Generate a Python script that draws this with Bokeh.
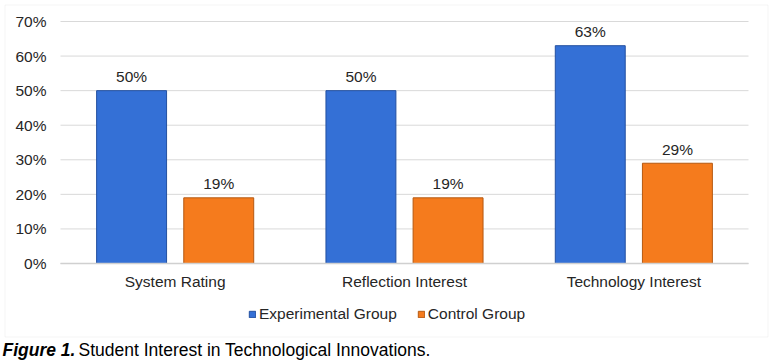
from bokeh.plotting import figure
from bokeh.models import (ColumnDataSource, Range1d, PrintfTickFormatter, Legend, LegendItem,
                          Label, BoxAnnotation, FixedTicker)
from bokeh.transform import dodge
from bokeh.embed import file_html
from bokeh.resources import INLINE
from bokeh.core.properties import value

categories = ["System Rating", "Reflection Interest", "Technology Interest"]
experimental = [50, 50, 63]
control = [19, 19, 29]
y_ticks = [0, 10, 20, 30, 40, 50, 60, 70]
y_max = 70
series_names = ["Experimental Group", "Control Group"]
caption_bold = "Figure 1."
caption_rest = "Student Interest in Technological Innovations."

FONT = "Liberation Sans"
FS = "15.5px"
TXT = "#262626"

# layout (canvas pixels)
W, H = 772, 360
PX_LEFT, PX_RIGHT, PX_TOP, PX_BASE = 60, 748, 21, 263
n = len(categories)
ppx = (PX_RIGHT - PX_LEFT) / n
ppy = (PX_BASE - PX_TOP) / y_max
x_range = Range1d(-PX_LEFT / ppx, n + (W - PX_RIGHT) / ppx)
y_range = Range1d(-(H - PX_BASE) / ppy, y_max + PX_TOP / ppy)

centers = [i + 0.5 for i in range(n)]
src = ColumnDataSource(dict(
    xc=centers,
    exp=experimental,
    ctl=control,
    exp_lbl=[f"{v}%" for v in experimental],
    ctl_lbl=[f"{v}%" for v in control],
))

p = figure(width=W, height=H, output_backend="svg", toolbar_location=None,
           x_range=x_range, y_range=y_range,
           min_border_left=0, min_border_right=0, min_border_top=0, min_border_bottom=0)
p.outline_line_color = None
p.background_fill_color = "white"
p.border_fill_color = "white"
p.xgrid.visible = False
p.ygrid.visible = False

# horizontal gridlines over the category span
p.segment(x0=0, x1=n, y0=y_ticks, y1=y_ticks, line_color="#d9d9d9", line_width=1)

r1 = p.vbar(x=dodge("xc", -0.19), top="exp", width=0.305, source=src,
            fill_color="#3470d6", line_color="#2350a0", line_width=1)
r2 = p.vbar(x=dodge("xc", 0.19), top="ctl", width=0.305, source=src,
            fill_color="#f57b1d", line_color="#b55912", line_width=1)

p.text(x=dodge("xc", -0.19), y="exp", text="exp_lbl", source=src,
       text_align="center", text_baseline="alphabetic", y_offset=-14,
       text_font=value(FONT), text_font_size=FS, text_color=TXT)
p.text(x=dodge("xc", 0.19), y="ctl", text="ctl_lbl", source=src,
       text_align="center", text_baseline="alphabetic", y_offset=-14,
       text_font=value(FONT), text_font_size=FS, text_color=TXT)

# axes drawn inside the frame at fixed locations
p.yaxis.fixed_location = 0
p.yaxis.ticker = FixedTicker(ticks=y_ticks)
p.yaxis.formatter = PrintfTickFormatter(format="%d%%")
p.yaxis.bounds = (0, y_max)
p.yaxis.axis_line_color = None
p.yaxis.major_tick_line_color = None
p.yaxis.minor_tick_line_color = None
p.yaxis.major_tick_out = 0
p.yaxis.major_tick_in = 0
p.yaxis.major_label_standoff = 14

p.xaxis.fixed_location = 0
p.xaxis.ticker = FixedTicker(ticks=centers)
p.xaxis.major_label_overrides = {c: lab for c, lab in zip(centers, categories)}
p.xaxis.bounds = (0, n)
p.xaxis.axis_line_color = "#d0d0d0"
p.xaxis.axis_line_width = 1.5
p.xaxis.major_tick_line_color = None
p.xaxis.minor_tick_line_color = None
p.xaxis.major_tick_out = 0
p.xaxis.major_tick_in = 0
p.xaxis.major_label_standoff = 9
for ax in (p.xaxis, p.yaxis):
    ax.major_label_text_font = FONT
    ax.major_label_text_font_size = FS
    ax.major_label_text_color = TXT

legend = Legend(items=[LegendItem(label=series_names[0], renderers=[r1]),
                       LegendItem(label=series_names[1], renderers=[r2])],
                orientation="horizontal", location=(248, H - 324),
                glyph_width=8, glyph_height=8, label_standoff=3, spacing=20,
                padding=0, margin=0, border_line_color=None, background_fill_alpha=0,
                label_text_font=FONT, label_text_font_size=FS, label_text_color=TXT,
                label_height=20)
p.add_layout(legend)

# outer chart border (screen units: from frame bottom-left, y up)
p.add_layout(BoxAnnotation(left=4.5, right=767.5, bottom=H - 336.5, top=H - 4.5,
                           left_units="screen", right_units="screen",
                           top_units="screen", bottom_units="screen",
                           fill_alpha=0, line_color="#d9d9d9", line_width=1))

p.add_layout(Label(x=2, y=H - 349, x_units="screen", y_units="screen", text=caption_bold,
                   text_font=FONT, text_font_size="17.5px", text_font_style="bold italic",
                   text_baseline="middle", text_color="black"))
p.add_layout(Label(x=78, y=H - 349, x_units="screen", y_units="screen", text=caption_rest,
                   text_font=FONT, text_font_size="17.5px",
                   text_baseline="middle", text_color="black"))

open("out.html", "w").write(file_html(p, INLINE))
